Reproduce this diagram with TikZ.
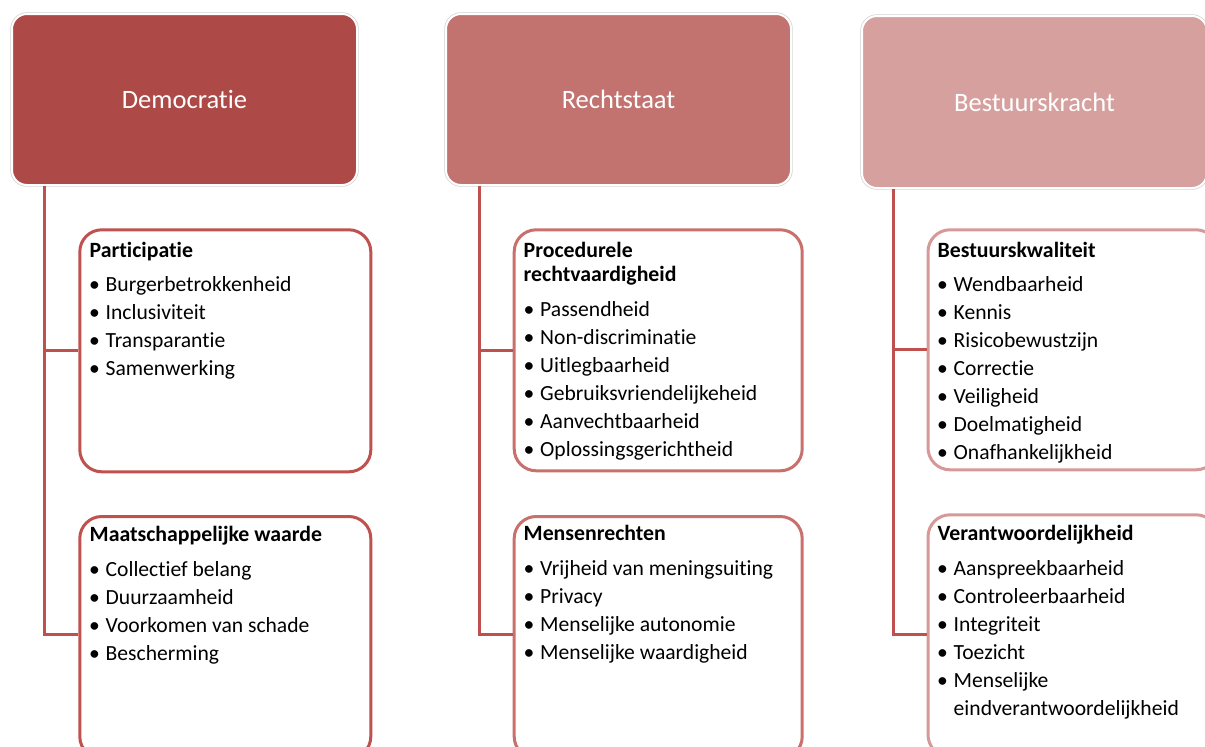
\documentclass[tikz,border=0pt]{standalone}
\usepackage{fontspec}
\setmainfont{Carlito}[RawFeature={-liga;-clig}]
\definecolor{cafill}{HTML}{AD4A47}
\definecolor{cbfill}{HTML}{C27370}
\definecolor{ccfill}{HTML}{D6A09F}
\definecolor{caline}{HTML}{BF514E}
\definecolor{cbline}{HTML}{C96F6C}
\definecolor{ccline}{HTML}{D69998}
\definecolor{connc}{HTML}{C0504D}
\newcommand\bul[1]{\makebox[16.5pt][l]{\textbullet}#1}
\tikzset{
  head/.style={rectangle, rounded corners=15pt, minimum width=345pt, minimum height=171pt,
    anchor=north west, draw=white, line width=2pt,
    preaction={draw=black!18, line width=3.4pt},
    text=white, font=\fontsize{26.5}{30}\selectfont, inner sep=0pt},
  sub/.style={rectangle, rounded corners=22pt, minimum width=291pt, minimum height=242pt,
    anchor=north west, line width=3pt, fill=white, inner sep=0pt},
  link/.style={draw=connc, line width=3pt},
  ttl/.style={anchor=base west, inner sep=0pt, font=\bfseries\fontsize{21.8}{24}\selectfont},
  itm/.style={anchor=base west, inner sep=0pt, font=\fontsize{21.6}{28}\selectfont},
}
\begin{document}
\begin{tikzpicture}[x=1pt,y=-1pt]
\clip (0,0) rectangle (1205,747);
\fill[white] (0,0) rectangle (1205,747);

% top boxes
\node[head, fill=cafill] (dem) at (11,13) {Democratie};
\node[head, fill=cbfill] (rs) at (445,13) {Rechtstaat};
\node[head, fill=ccfill, minimum height=172pt] (bk) at (861,15) {Bestuurskracht};

% sub boxes
\node[sub, draw=caline] (part) at (78.3,228.3) {};
\node[sub, draw=caline] (mw) at (78.3,515) {};
\node[sub, draw=cbline, minimum width=288pt, minimum height=241pt] (pr) at (512.7,228.3) {};
\node[sub, draw=cbline, minimum width=288pt] (mr) at (512.7,515) {};
\node[sub, draw=ccline, minimum width=290pt, minimum height=240pt] (bq) at (926.5,228.3) {};
\node[sub, draw=ccline, minimum width=290pt] (vw) at (926.5,513.3) {};

% connectors
\draw[link] (dem.south west) ++(33.3,0) coordinate (d0) |- ([yshift=3.5pt]mw.west);
\draw[link] (d0 |- part.west) -- (part.west);
\draw[link] (rs.south west) ++(34.3,0) coordinate (r0) |- ([yshift=3.5pt]mr.west);
\draw[link] (r0 |- pr.west) -- (pr.west);
\draw[link] (bk.south west) ++(32.3,0) coordinate (b0) |- ([yshift=1.5pt]vw.west);
\draw[link] (b0 |- bq.west) -- (bq.west);

% column 1
\node[ttl] (partt) at (89.5,257) {Participatie};
\foreach \t [count=\i] in {Burgerbetrokkenheid, Inclusiviteit, Transparantie, Samenwerking}
  \node[itm] (pi\i) at (89,{291+28*(\i-1)}) {\bul{\t}};
\node[ttl] (mwt) at (89.5,541) {Maatschappelijke waarde};
\foreach \t [count=\i] in {Collectief belang, Duurzaamheid, Voorkomen van schade, Bescherming}
  \node[itm] (mi\i) at (89,{576+28*(\i-1)}) {\bul{\t}};

% column 2
\node[ttl] (prt1) at (523.5,257) {Procedurele};
\node[ttl] (prt2) at (523.5,281.5) {rechtvaardigheid};
\foreach \t [count=\i] in {Passendheid, Non-discriminatie, Uitlegbaarheid, Gebruiksvriendelijkeheid, Aanvechtbaarheid, Oplossingsgerichtheid}
  \node[itm] (ri\i) at (523.5,{316+28*(\i-1)}) {\bul{\t}};
\node[ttl] (mrt) at (523.5,540.5) {Mensenrechten};
\foreach \t [count=\i] in {Vrijheid van meningsuiting, Privacy, Menselijke autonomie, Menselijke waardigheid}
  \node[itm] (ni\i) at (523.5,{575+28*(\i-1)}) {\bul{\t}};

% column 3
\node[ttl] (bqt) at (937.5,257) {Bestuurskwaliteit};
\foreach \t [count=\i] in {Wendbaarheid, Kennis, Risicobewustzijn, Correctie, Veiligheid, Doelmatigheid, Onafhankelijkheid}
  \node[itm] (qi\i) at (937,{291+28*(\i-1)}) {\bul{\t}};
\node[ttl] (vwt) at (937.5,540.7) {Verantwoordelijkheid};
\foreach \t [count=\i] in {Aanspreekbaarheid, Controleerbaarheid, Integriteit, Toezicht, Menselijke}
  \node[itm] (vi\i) at (937,{575+28*(\i-1)}) {\bul{\t}};
\node[itm] (vi6) at (953.5,715) {eindverantwoordelijkheid};
\end{tikzpicture}
\end{document}
